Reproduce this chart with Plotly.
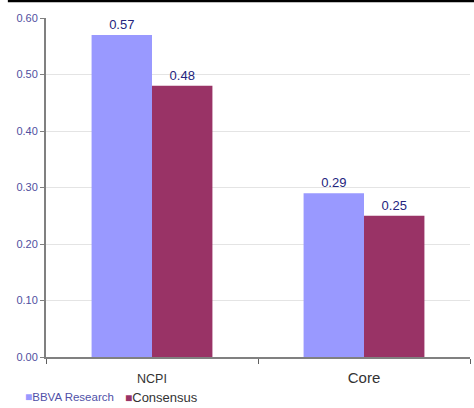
import plotly.graph_objects as go

categories = ["NCPI", "Core"]
series_names = ["BBVA Research", "Consensus"]
bbva = [0.57, 0.29]
consensus = [0.48, 0.25]
tick_vals = [0.0, 0.1, 0.2, 0.3, 0.4, 0.5, 0.6]

colors = ["#9999ff", "#993366"]
FONT = "Liberation Sans, Arial"

fig = go.Figure()
for name, vals, col in zip(series_names, [bbva, consensus], colors):
    fig.add_trace(go.Bar(
        x=categories, y=vals, name=name,
        marker=dict(color=col, line=dict(width=0)),
        text=[f"{v:.2f}" for v in vals], textposition="outside",
        textfont=dict(color="#24247e", size=13, family=FONT),
        cliponaxis=False, showlegend=False,
    ))

# legend drawn as text entries under the plot
legend_specs = [
    (series_names[0], colors[0], "#5050a8", 11.5, -0.055),
    (series_names[1], colors[1], "#333333", 13, 0.181),
]
annotations = []
for name, col, tcol, fs, xp in legend_specs:
    annotations.append(dict(
        xref="paper", yref="paper", x=xp, y=-0.092, xanchor="left", yanchor="top",
        text=f"<span style='color:{col};font-size:12px'>■</span><span style='color:{tcol};font-size:{fs}px'>{name}</span>",
        showarrow=False, font=dict(family=FONT, size=fs),
    ))

fig.update_layout(
    width=474, height=408,
    margin=dict(l=46, r=4, t=18, b=51, autoexpand=False),
    paper_bgcolor="white", plot_bgcolor="white",
    barmode="group", bargap=0.43, bargroupgap=0,
    font=dict(family=FONT, size=11, color="#333333"),
    showlegend=False,
    annotations=annotations,
    yaxis=dict(range=[0, 0.6], tickvals=tick_vals, tickformat=".2f",
               tickfont=dict(color="#5050a0", size=11),
               showgrid=True, gridcolor="#e4e4e4", gridwidth=1,
               showline=True, linecolor="#808080", linewidth=2,
               ticks="outside", ticklen=4, tickcolor="#808080", zeroline=False),
    xaxis=dict(showline=True, linecolor="#808080", linewidth=1.5,
               ticks="outside", tickson="boundaries", ticklen=5, tickcolor="#606060",
               tickmode="array", tickvals=categories,
               ticktext=["<span style='font-size:12.5px'>NCPI</span>",
                         "<span style='font-size:15px'>Core</span>"],
               ticklabelstandoff=11,
               tickfont=dict(color="#333333")),
    shapes=[dict(type="line", xref="paper", yref="paper", x0=-0.09, x1=1.02,
                 y0=1.05, y1=1.05, line=dict(color="black", width=2.5))],
)

fig.write_html("out.html")
